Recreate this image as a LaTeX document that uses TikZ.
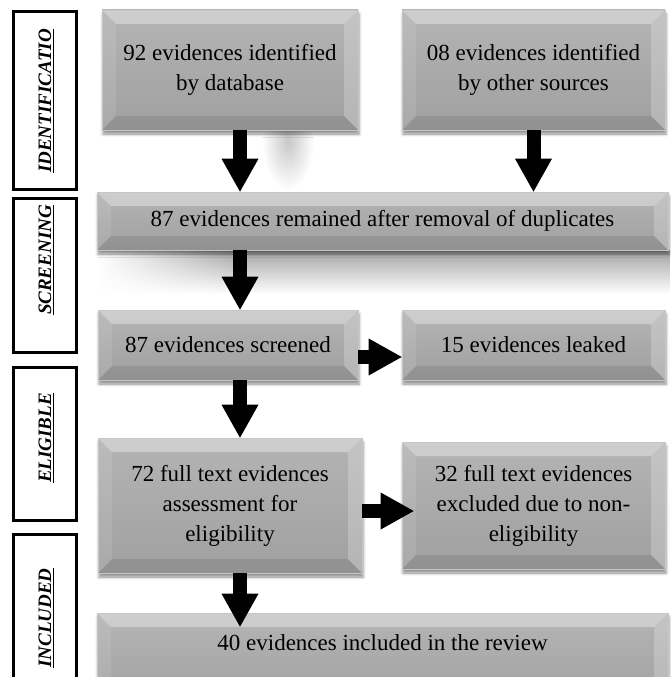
\documentclass[tikz,border=0pt]{standalone}
\usepackage{fontspec}
\setmainfont{Liberation Serif}
\usetikzlibrary{arrows.meta,calc,shadows.blur,fadings}
\definecolor{faceTop}{HTML}{B4B4B4}
\definecolor{faceBot}{HTML}{A0A0A0}
\newcommand{\bvl}{14pt}
\newcommand{\ppb}{path picture bounding box}

\begin{document}
\begin{tikzpicture}[x=1pt,y=-1pt,font=\fontsize{23}{30}\selectfont,
  evbox/.style={rectangle,inner sep=0pt,align=center,
    top color=faceTop,bottom color=faceBot,draw=gray!45,line width=0.6pt,
    blur shadow={shadow xshift=1pt,shadow yshift=-4pt,shadow blur radius=3pt,shadow opacity=45},
    path picture={
      % top, left, right and bottom faces of the bevel
      \fill[white,opacity=.35] (\ppb.north west) -- (\ppb.north east)
        -- ([xshift=-\bvl,yshift=-\bvl]\ppb.north east) -- ([xshift=\bvl,yshift=-\bvl]\ppb.north west) -- cycle;
      \fill[white,opacity=.10] (\ppb.north west) -- ([xshift=\bvl,yshift=-\bvl]\ppb.north west)
        -- ([xshift=\bvl,yshift=\bvl]\ppb.south west) -- (\ppb.south west) -- cycle;
      \fill[white,opacity=.22] (\ppb.north east) -- ([xshift=-\bvl,yshift=-\bvl]\ppb.north east)
        -- ([xshift=-\bvl,yshift=\bvl]\ppb.south east) -- (\ppb.south east) -- cycle;
      \fill[black,opacity=.09] (\ppb.south west) -- ([xshift=\bvl,yshift=\bvl]\ppb.south west)
        -- ([xshift=-\bvl,yshift=\bvl]\ppb.south east) -- (\ppb.south east) -- cycle;
    }},
  sidebox/.style={draw=black,line width=3pt,minimum width=63.4pt,inner sep=0pt},
  sidelab/.style={rotate=90,inner sep=0pt,font=\fontsize{19}{21}\selectfont\bfseries\itshape},
  blockarr/.style={line width=14pt,-{Triangle[length=33pt,width=37pt,line width=0pt]}}]
\useasboundingbox (0,0) rectangle (670,677);
% stage boxes on the left
\node[sidebox,minimum height=178pt] (sideI) at (45,100.5) {};
\node[sidebox,minimum height=153.7pt] (sideS) at (45,275.8) {};
\node[sidebox,minimum height=153pt] (sideE) at (45,443.8) {};
\node[sidebox,minimum height=160pt] (sideN) at (45,614.3) {};
\foreach \n/\y/\t in {labI/101/IDENTIFICATIO,labS/260/SCREENING,labE/438/ELIGIBLE,labN/618/INCLUDED}{
  \node[sidelab] (\n) at (46,\y) {\underline{\t}};}
% soft shadows behind the screening row
\shade[inner color=black!22,outer color=white] (288,140) ellipse (26 and 50);
\fill[black!36,path fading=south] (100,250) rectangle (670,294);
\fill[white,path fading=east] (98,248) rectangle (230,296);
% identification
\node[evbox,minimum width=256pt,minimum height=120pt] (boxA) at (230,70) {92 evidences identified\\by database};
\node[evbox,minimum width=263pt,minimum height=120pt] (boxB) at (533.5,70) {08 evidences identified\\by other sources};
% screening
\node[evbox,minimum width=571pt,minimum height=58pt] (boxC) at (382.5,221) {87 evidences remained after removal of duplicates};
\node[evbox,minimum width=260pt,minimum height=70pt] (boxD) at (228,345) {87 evidences screened};
\node[evbox,minimum width=263pt,minimum height=70pt] (boxE) at (533.5,345) {15 evidences leaked};
% eligibility
\node[evbox,minimum width=264pt,minimum height=135pt] (boxF) at (230,505.5) {72 full text evidences\\assessment for\\eligibility};
\node[evbox,minimum width=263pt,minimum height=127pt] (boxG) at (533.5,505.5) {32 full text evidences\\excluded due to non-\\eligibility};
% included
\node[evbox,minimum width=571pt,minimum height=100pt,text depth=40pt] (boxH) at (382.5,663) {40 evidences included in the review};
% arrows
\coordinate (colL) at (240,0);
\coordinate (rowDE) at (0,357);
\coordinate (rowFG) at (0,511);
\draw[blockarr] (boxA.south -| colL) -- (boxC.north -| colL);
\draw[blockarr] (boxB.south) -- (boxB.south |- boxC.north);
\draw[blockarr] (boxC.south -| colL) -- (boxD.north -| colL);
\draw[blockarr] (boxD.east |- rowDE) -- (boxE.west |- rowDE);
\draw[blockarr] (boxD.south -| colL) -- (boxF.north -| colL);
\draw[blockarr] (boxF.east |- rowFG) -- ($(boxG.west |- rowFG)+(12,0)$);
\draw[blockarr] (boxF.south -| colL) -- ($(boxH.north -| colL)+(0,14)$);
\end{tikzpicture}
\end{document}
